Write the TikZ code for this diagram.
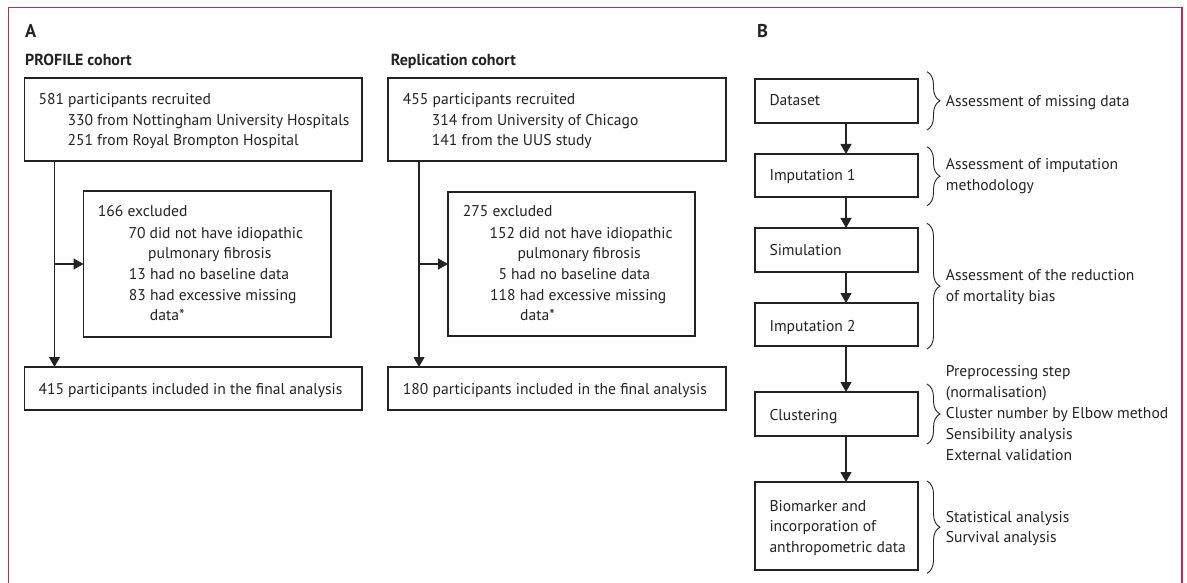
\documentclass[tikz,border=0pt]{standalone}
\usepackage{fontspec}
\setmainfont{PT Sans}
\usetikzlibrary{arrows.meta,decorations.pathreplacing,calc}
\definecolor{ink}{RGB}{35,35,35}
\definecolor{framecol}{RGB}{198,40,85}
\newcommand{\mybox}[5]{\node[box, minimum width={#4-#2}, minimum height={#5-#3}] (#1) at (#2,#3) {};}
\newcommand{\mytxt}[4]{\node[txt] (#1) at (#2,#3) {#4};}
\begin{document}
\begin{tikzpicture}[x=1pt,y=-1pt,
  box/.style={draw=ink, line width=1.1pt, inner sep=0pt, outer sep=0pt, anchor=north west},
  txt/.style={anchor=base west, inner sep=0pt, text=ink, font=\fontsize{15.6}{20}\selectfont},
  hd/.style={anchor=base west, inner sep=0pt, text=ink, font=\fontsize{16}{20}\selectfont\bfseries},
  bighd/.style={anchor=base west, inner sep=0pt, text=ink, font=\fontsize{18.5}{20}\selectfont\bfseries},
  arr/.style={draw=ink, line width=1.1pt, -{Triangle[length=10pt,width=11pt]}},
  brc/.style={draw=ink, line width=0.9pt, decorate, decoration={brace, amplitude=13pt}}]
\useasboundingbox (0,0) rectangle (1187,583);
\draw[framecol, line width=1.2pt] (8.5,583) -- (8.5,7.3) -- (1182,7.3) -- (1182,583);

% headings
\node[bighd] (hA) at (25,38) {A};
\node[bighd] (hB) at (757,37.7) {B};
\node[hd] (hP) at (25,66) {PROFILE cohort};
\node[hd] (hR) at (390.7,66) {Replication cohort};

% PROFILE cohort
\mybox{p1}{24.5}{78}{362}{161}
\mybox{pe}{83.5}{191}{331}{337}
\mybox{pf}{24.5}{367}{362}{410}
\mytxt{p1a}{38.3}{105}{581 participants recruited}
\mytxt{p1b}{67.3}{125.5}{330 from Nottingham University Hospitals}
\mytxt{p1c}{67.3}{146}{251 from Royal Brompton Hospital}
\mytxt{pea}{97.7}{217}{166 excluded}
\mytxt{peb}{128.3}{238}{70 did not have idiopathic}
\mytxt{pec}{148}{258.5}{pulmonary fibrosis}
\mytxt{ped}{128.7}{279}{13 had no baseline data}
\mytxt{pee}{128.7}{300}{83 had excessive missing}
\mytxt{pef}{149.7}{320.7}{data*}
\mytxt{pfa}{38.3}{394}{415 participants included in the final analysis}
\coordinate (pj) at ($(p1.south west)+(30,0)$);
\draw[arr] (pj) -- (pj |- pf.north);
\draw[arr] (pj |- pe.west) -- (pe.west);

% Replication cohort
\mybox{r1}{388}{78}{726}{161}
\mybox{re}{448}{192}{695}{336}
\mybox{rf}{388}{367}{726}{410}
\mytxt{r1a}{402.7}{105}{455 participants recruited}
\mytxt{r1b}{431.7}{125.5}{314 from University of Chicago}
\mytxt{r1c}{431.7}{146}{141 from the UUS study}
\mytxt{rea}{462.7}{217}{275 excluded}
\mytxt{reb}{489.3}{238}{152 did not have idiopathic}
\mytxt{rec}{517.3}{258.5}{pulmonary fibrosis}
\mytxt{red}{498.3}{279}{5 had no baseline data}
\mytxt{ree}{490}{300}{118 had excessive missing}
\mytxt{ref}{520}{320.7}{data*}
\mytxt{rfa}{402.7}{394}{180 participants included in the final analysis}
\coordinate (rj) at ($(r1.south west)+(31,0)$);
\draw[arr] (rj) -- (rj |- rf.north);
\draw[arr] (rj |- re.west) -- (re.west);

% B
\mybox{b1}{755}{79}{918}{123}
\mybox{b2}{755}{154}{918}{197}
\mybox{b3}{755}{228}{918}{272}
\mybox{b4}{755}{303}{918}{346}
\mybox{b5}{755}{392}{918}{436}
\mybox{b6}{755}{482}{918}{570}
\mytxt{b1a}{769.3}{106}{Dataset}
\mytxt{b2a}{769.3}{180.7}{Imputation 1}
\mytxt{b3a}{769.3}{255}{Simulation}
\mytxt{b4a}{769.3}{331}{Imputation 2}
\mytxt{b5a}{769.3}{420.7}{Clustering}
\mytxt{b6a}{769.3}{511}{Biomarker and}
\mytxt{b6b}{769.3}{531.7}{incorporation of}
\mytxt{b6c}{769.3}{552}{anthropometric data}
\coordinate (bj) at ($(b1.south west)+(91,0)$);
\draw[arr] (bj) -- (bj |- b2.north);
\draw[arr] (bj |- b2.south) -- (bj |- b3.north);
\draw[arr] (bj |- b3.south) -- (bj |- b4.north);
\draw[arr] (bj |- b4.south) -- (bj |- b5.north);
\draw[arr] (bj |- b5.south) -- (bj |- b6.north);

% braces
\draw[brc] (927,71.7) -- (927,130);
\draw[brc] (927,146.7) -- (927,205.7);
\draw[brc] (927,223.3) -- (927,349);
\draw[brc] (927,384) -- (927,444);
\draw[brc] (927,481) -- (927,573.3);

\mytxt{l1a}{945.7}{106.7}{Assessment of missing data}
\mytxt{l2a}{945.7}{170}{Assessment of imputation}
\mytxt{l2b}{945.7}{190.7}{methodology}
\mytxt{l3a}{945.7}{280.7}{Assessment of the reduction}
\mytxt{l3b}{945.7}{301.7}{of mortality bias}
\mytxt{l4a}{945.7}{376}{Preprocessing step}
\mytxt{l4b}{945.7}{397}{(normalisation)}
\mytxt{l4c}{945.7}{418}{Cluster number by Elbow method}
\mytxt{l4d}{945.7}{439}{Sensibility analysis}
\mytxt{l4e}{945.7}{460}{External validation}
\mytxt{l5a}{945.7}{522}{Statistical analysis}
\mytxt{l5b}{945.7}{542.7}{Survival analysis}
\end{tikzpicture}
\end{document}
